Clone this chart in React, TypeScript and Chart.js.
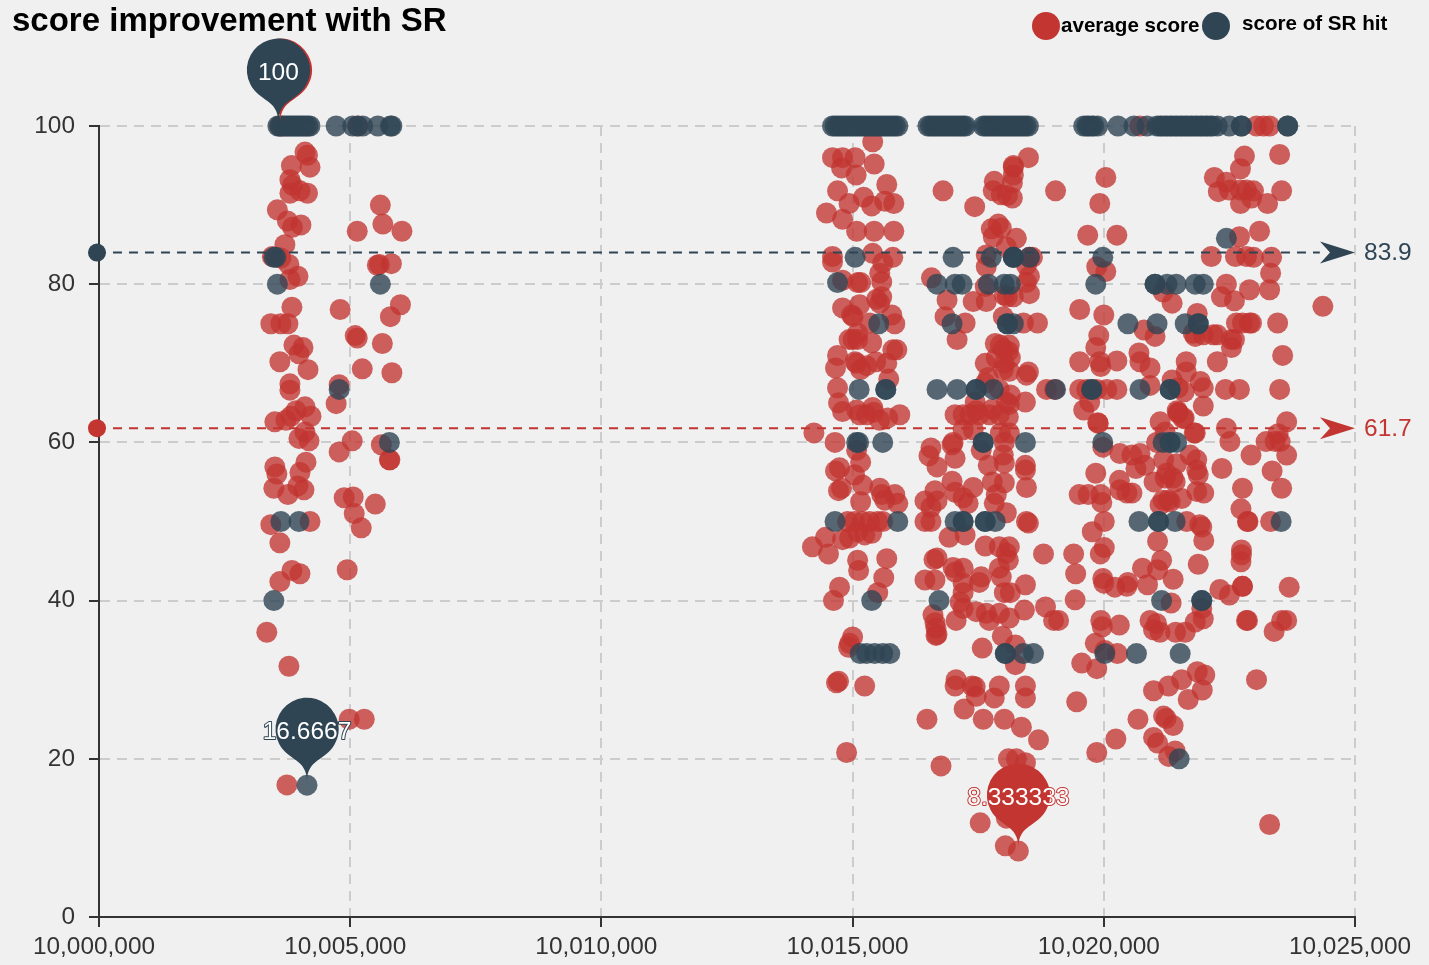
import React, { useEffect, useRef } from "react";
import { Chart, registerables } from "chart.js";

Chart.register(...registerables);

const X_BASE = 10000000;
const X_STEP = 1000; // pair x values are in thousands above X_BASE
const RED = "#c23531";
const BLUE = "#2f4554";
const RED_A = "rgba(194,53,49,0.78)";
const BLUE_A = "rgba(47,69,84,0.8)";

const titleText = "score improvement with SR";
const legendLabels = ["average score", "score of SR hit"];
const yTicksStep = 20;
const xTicksStep = 5000;

const redLeft: number[][] = [
  [4.1,96.7],[4.15,96.3],[3.83,95],[4.2,94.8],[3.8,93.2],[3.85,92.5],[3.8,91.5],[4.15,91.5],[4.0,91.8],[3.55,89.4],[3.75,88],[3.85,87.2],[4.02,87.5],[3.7,85],[3.45,83.5],[3.62,83.3],[3.78,82.5],[3.96,81],[3.8,80.6],[3.84,77.1],[3.42,75],[3.62,75],[3.76,75],[3.6,70.2],[3.88,72.3],[4.06,72],[3.98,71.2],[4.16,69.2],[3.8,67.4],[3.8,66.6],[3.5,62.6],[3.72,62.8],[3.82,63.3],[3.92,64],[4.1,64.5],[4.22,63.3],[3.98,60.5],[4.1,61.3],[4.18,60.2],[3.5,56.9],[3.54,56],[4.12,57.5],[4,56.2],[3.48,54.2],[3.76,53.4],[3.96,54.5],[4.08,54],[3.42,49.6],[4.2,50],[3.6,47.3],[3.6,42.4],[3.84,43.8],[4,43.4],[3.34,36],[3.78,31.7],[3.74,16.7],[4.98,25],[5.28,25],
  [5.14,86.7],[5.6,90],[5.65,87.6],[6.03,86.7],[5.54,82.4],[5.58,82.5],[5.82,82.6],[6,77.4],[4.8,76.8],[5.8,75.9],[5.1,73.5],[5.14,73.2],[5.64,72.5],[5.83,68.8],[5.24,69.3],[4.78,67.3],[4.72,64.9],[5.04,60.2],[4.78,58.8],[5.62,59.7],[5.78,57.8],[5.79,57.8],[4.88,53],[5.06,53.1],[5.5,52.2],[5.08,51],[5.22,49.2],[4.94,43.9],[5.15,100],[3.6,100],
];

const redMiddleA: number[][] = [
  [15.4,98],[14.6,96],[14.8,96],[15.05,96],[14.78,94.7],[15.07,93.8],[15.43,95.2],[14.7,91.8],[14.93,90.2],[15.22,91],[15.68,92.6],[15.38,89.9],[15.64,90.5],[15.82,90.2],[14.48,89],[14.8,88.2],[15.08,86.7],[15.43,86.7],[15.82,86.7],[15.4,83.9],[14.6,83.5],[14.6,82.8],[15.8,83.4],[15.6,82.7],[15.54,81.4],[15.1,80.2],[15.16,80.2],[15.58,80.3],[14.8,80.5],
  [14.8,77],[15.14,77.4],[15.48,78.1],[15.58,78.4],[15.54,77.6],[14.98,76.1],[15.01,75.9],[15.78,76.1],[15.84,75],[15.34,75.1],[14.93,73],[15.01,73],[15.1,73],[15.38,72.6],[15.88,71.7],[15.8,71.7],[14.7,71],[14.66,69.4],[15.1,73.8],[15.05,70.2],[15.08,70],[15.28,69.7],[15.46,70.2],[15.68,70],[15.16,69.2],[15.72,68],[14.7,66.9],[14.72,65],[14.8,63.9],[15.08,64.1],[15.4,64.4],[15.28,63.5],[15.14,63.5],[15.42,63.8],[15.94,63.5],[15.7,63.1],[15.54,62.8],
  [14.23,61.2],[14.65,60],[15.08,59],[15.16,57.5],[14.74,56.8],[14.66,56.4],[15.04,55.9],[14.78,54.2],[14.72,53.9],[15.2,54.6],[15.54,54.2],[15.84,53.4],[15.58,53.4],[15.9,52.3],[15.16,52.5],[15.64,52.7],[14.9,50],[15.04,50],[15.2,50],[15.34,50],[15.5,50],[15.6,50],[15.1,48.7],[14.94,47.9],[15.24,48.3],[15.38,48.5],[14.8,47.7],[14.46,48],[14.2,46.8],[14.52,45.9],[15.1,45.1],[15.12,43.8],[15.68,45.3],[15.62,42.9],[14.74,41.7],[14.62,40],[15.5,41],[15,35.4],[14.94,34.6],[14.92,34.1],[14.72,29.8],[14.68,29.6],[15.24,29.2],[14.88,20.8],
];

const redMiddleB: number[][] = [
  [16.8,91.8],[17.43,89.8],[18.5,96],[18.2,95],[18.2,94.8],[18.2,93.8],[17.82,93],[18.18,92.8],[17.8,91.8],[17.96,91.3],[18.08,91.2],[18.18,90.9],[19.04,91.8],[17.9,87.6],[17.76,87],[17.96,87.1],[17.8,86],[18.26,85.8],[18.06,84.7],[17.66,83.7],[18.52,83.4],[18.58,83.4],[17.66,82.2],[18.46,82.4],[16.57,80.8],[18.52,81],[18.46,80.2],[17.64,79.7],
  [16.88,78],[17.4,77.8],[17.66,77.8],[18.08,78.4],[18.2,78.4],[18.52,78.8],[18.02,78.6],[16.84,75.9],[17.24,75.1],[18,75.9],[18.4,75.1],[18.68,75.1],[17.08,73],[17.94,72.3],[18.12,72.3],[17.84,72.5],[18,71.8],[18.1,71.5],[17.86,70.7],[18.14,70.7],[17.64,70],[18.02,70],[18,69.2],[18.5,68.9],[18.46,68.5],[18.12,69],
  [18.86,66.7],[19.02,66.7],[17.64,67.5],[17.7,68.2],[17.44,65.1],[17.92,66.7],[18.06,65.1],[18.44,65.1],[18.14,66],[17.04,63.5],[17.2,63.5],[17.34,63.5],[17.46,64],[17.52,63.5],[17.72,63.5],[17.92,63.5],[18.12,64.8],[18.1,63.2],[17.78,64.2],
  [16.56,59.3],[16.52,58.3],[17,60],[16.98,59.7],[17.04,58],[16.68,56.9],[17.2,61.6],[17.4,61.6],[17.56,59],[17.94,61.2],[18.12,61.2],[18.02,60],[18,58.4],[18.02,57.4],[17.7,57.1],[18.44,57.1],[18.44,56.5],[17.78,55],[18.02,54.9],[16.98,55.1],[17.4,54.3],[18.46,54.3],[16.64,53.9],[17.04,53.7],[17.86,53.4],[16.44,52.6],[16.68,52.6],[16.56,51.8],[17.2,53],[17.3,52.3],[17.82,52.3],[18.06,51.1],[16.56,50],[16.44,50],[18.46,50],[18.5,49.8],[17.24,48.3],[16.92,48],[17.64,46.9],[17.92,46.8],[18.12,46.8],[18.06,46],[18.1,45.1],[18.8,45.9],
  [16.68,45.4],[16.62,45.2],[17,44.2],[17.2,44.1],[17.92,44.1],[17.04,43.6],[17.56,43],[17.96,43],[17.2,42.2],[17.52,42.3],[16.44,42.6],[16.64,42.6],[18.44,42],[18.02,41],[18.14,41],[17.2,41],[17.14,39.8],[17.2,39],[17.46,38.6],[17.66,38.4],[17.72,37.5],[17.92,38.4],[18.12,37.8],[18.42,38.8],[18.84,39.2],[19,37.5],[17.06,37.5],[16.6,38.2],[16.64,37.2],[16.66,36.5],[16.68,35.7],[16.66,35.6],
  [17.98,35.5],[17.58,34],[18.24,34.4],[18.24,31.9],[17.06,30],[17.04,29.2],[17.38,29.2],[17.44,29.1],[17.92,29.2],[18.44,29.2],[18.44,27.7],[17.46,27.9],[17.82,27.7],[17.22,26.3],[16.48,25],[17.6,25],[18.02,25],[18.36,24],[18.7,22.4],[16.76,19.1],[18.1,20],[18.26,20],[18.44,19.5],[17.54,11.9],[18.04,9],[18.3,8.333333],[18.06,12.5],
];

const redRightTop: number[][] = [
  [20.04,93.5],[19.92,90.2],[19.68,86.2],[20.26,86.2],[19.86,82.2],[20.04,81.6],[19.52,76.8],[20,76.1],[19.9,73.5],[19.84,72],[19.52,70.2],[19.92,70.2],[19.94,69.6],[20.26,70.3],[19.52,66.7],[19.66,66.7],[19.86,66.7],[20.06,66.7],[20.26,66.7],[19.72,65.1],[19.6,64.1],[19.88,62.5],
  [20.7,71.3],[20.72,70.2],[20.92,69.4],[20.8,74.2],[21.02,73.4],[21.18,79],[21.36,77.6],[21.86,76.3],[21.78,73.8],[21.82,73.4],[21.98,73.6],[22.18,73.6],[22.26,73.6],[22.54,73],[22.6,73],[22.54,72],[22.64,75.1],[22.76,75.1],[22.94,75.1],[22.9,75.1],[23.46,75.1],[23.56,71],[24.36,77.2],
  [21.64,70.2],[22.26,70.2],[21.36,67.9],[21.64,68.9],[21.92,67.7],[21.98,66.9],[20.92,67.2],[21.48,66.9],[21.6,66.4],[22.42,66.7],[22.7,66.7],[23.5,66.7],[21.98,64.6],[21.46,64],[21.48,63.8],[21.6,63.1],
  [22.8,96.2],[22.72,94.6],[23.5,96.4],[22.2,93.5],[22.44,92.9],[22.28,91.7],[22.5,91.9],[22.72,91.9],[22.84,91.9],[22.98,91.8],[22.94,90.9],[22.72,90.2],[23.26,90.2],[23.54,91.8],[23.1,86.7],[22.7,86],[22.14,83.5],[22.62,83.5],[22.84,83.5],[22.98,83.4],[23.34,83.4],[23.32,81.4],[22.44,80],[22.9,79.3],[23.3,79.3],[22.34,78.4],[22.6,77.9],
  [23.04,100],[23.18,100],[23.3,100],[20.72,100],
];

const redRightBottom: number[][] = [
  [19.89,62.4],[19.98,59.4],[20.32,58.6],[20.56,58.4],[20.72,58.6],[20.64,56.7],[20.82,57.1],[21.12,62.6],[21.22,61.3],[21.05,60],[21.48,63.7],[21.58,63],[21.8,61.2],[21.82,61.2],[22.44,61.8],[22.51,60.1],[22.93,58.4],[23.23,60.1],[23.41,60.1],[23.51,60.1],[23.64,62.6],[23.47,61.1],[23.64,58.4],[23.35,56.4],[23.54,54.2],[22.35,56.7],[22.76,54.2],[21.19,57.8],[21.45,57.3],[21.72,58.4],[21.85,57.8],[21.85,56.5],[21.88,55.9],[21,55],[21.22,55.5],[21.38,55.5],[21.42,55],[21.25,56.1],[19.84,56.1],[20.31,55.2],[20.32,54],[20.46,53.6],[20.56,53.6],[19.51,53.4],[19.69,53.4],[19.94,53.4],[19.96,52.4],[21.18,52.7],[21.28,52.7],[21.32,52.5],[21.12,52.1],[21.55,52.9],[21.85,53.8],[21.99,53.6],
  [20.01,50],[19.77,48.7],[21.65,50],[21.91,49.6],[21.95,49.3],[21.99,47.6],[21.07,47.5],[22.73,51.6],[22.86,50],[22.87,50],[23.32,50],[22.74,46.4],[22.74,45.8],[22.73,44.9],[20.01,46.7],[19.93,45.9],[19.4,45.9],[19.44,43.4],[21.15,45.1],[20.77,44.1],[21.88,44.6],[21.07,43.9],[19.98,42.8],[20,42.2],[20.22,41.7],[20.48,42.3],[20.46,41.8],[20.87,42],[21.38,42.7],[22.31,41.4],[22.5,40.7],[22.76,41.8],[22.76,41.8],[23.69,41.7],[19.43,40.1],
  [19.1,37.5],[19.94,37.5],[19.97,36.7],[20.31,36.9],[20.92,37.5],[21.05,37.1],[20.99,36.3],[21.12,36],[21.43,36],[21.62,36],[21.34,39.7],[21.95,39],[21.98,37.7],[21.82,37.3],[22.86,37.5],[22.84,37.5],[23.39,36.1],[23.54,37.5],[23.64,37.5],[19.83,34.6],[20.02,33.7],[20.27,33.3],[19.56,32.1],[19.86,31.4],[21.86,31],[22.01,30.6],[21.55,30],[21.29,29.2],[20.99,28.6],[21.96,28.7],[21.68,27.5],[23.04,30],[19.46,27.2],[20.68,25],[21.19,25.4],[21.24,25.1],[21.38,24.2],[20.24,22.5],[20.99,22.7],[21.07,22],[19.86,20.8],[21.42,21],[21.29,20.3],[23.3,11.7],
];

const blueTopRow: number[] = [
  3.56,3.6,3.64,3.68,3.72,3.76,3.8,3.84,3.88,3.92,3.96,4,4.04,4.08,4.12,4.16,4.2,4.72,5.05,5.15,5.25,5.55,5.8,5.83,
  14.6,14.65,14.7,14.75,14.8,14.85,14.9,14.95,15,15.05,15.1,15.15,15.2,15.25,15.3,15.35,15.4,15.45,15.5,15.55,15.6,15.65,15.7,15.75,15.8,15.85,15.9,
  16.5,16.55,16.6,16.65,16.7,16.75,16.8,16.85,16.9,16.95,17,17.05,17.1,17.15,17.2,17.25,
  17.6,17.65,17.7,17.75,17.8,17.85,17.9,17.95,18,18.05,18.1,18.15,18.2,18.25,18.3,18.35,18.4,18.45,18.5,
  19.6,19.66,19.7,19.76,19.8,19.88,20.28,20.6,20.86,21.06,21.12,21.16,21.22,21.26,21.32,21.36,21.42,21.46,21.52,21.56,21.62,21.66,21.72,21.76,21.82,21.86,21.92,21.96,22.02,22.06,22.12,22.16,22.26,22.5,22.74,22.74,23.66,23.66,
];

const blueOther: number[][] = [
  [3.48,83.4],[3.52,83.4],[3.55,80],[5.6,80],[4.78,66.7],[5.78,60],[3.62,50],[3.98,50],[3.48,40],[4.14,16.6667],
  [15.05,83.4],[14.7,80.2],[15.52,75],[15.13,66.7],[15.66,66.7],[15.66,66.7],[15.08,60],[15.12,60],[15.6,60],[14.65,50],[15.9,50],[15.38,40],[15.15,33.3],[15.28,33.3],[15.44,33.3],[15.6,33.3],[15.74,33.3],
  [17,83.4],[17.76,83.4],[18.2,83.4],[18.2,83.4],[18.2,83.4],[18.52,83.4],[16.68,80],[17.04,80],[17.18,80],[17.7,80],[18.02,80],[18.14,80],[16.98,75],[18.08,75],[18.08,75],[18.2,75],[16.68,66.7],[17.08,66.7],[17.46,66.7],[17.46,66.7],[17.8,66.7],[19.04,66.7],[17.6,60],[17.6,60],[18.44,60],[17.04,50],[17.2,50],[17.2,50],[17.64,50],[17.64,50],[17.84,50],[16.72,40],[18.04,33.3],[18.04,33.3],[18.4,33.3],[18.6,33.3],
  [19.98,83.4],[22.44,85.8],[19.84,80],[21.02,80],[21.02,80],[21.26,80],[21.44,80],[21.82,80],[21.98,80],[20.48,75],[21.06,75],[21.62,75],[21.88,75],[21.88,75],[19.76,66.7],[19.76,66.7],[20.72,66.7],[21.32,66.7],[21.32,66.7],
  [19.98,60],[21.18,60],[21.32,60],[21.32,60],[21.45,60],[20.7,50],[21.09,50],[21.09,50],[21.42,50],[23.53,50],[21.15,40],[21.95,40],[21.95,40],[20.02,33.3],[20.65,33.3],[21.52,33.3],[21.5,20],
];

const redPairs = [...redLeft, ...redMiddleA, ...redMiddleB, ...redRightTop, ...redRightBottom];
const bluePairs = [...blueTopRow.map((k) => [k, 100]), ...blueOther];

const toPoint = (p: number[]) => ({ x: X_BASE + p[0] * X_STEP, y: p[1] });

// mark lines: value where it is drawn / label shown
const redMean = 61.8;
const blueMean = 84;
const redMeanLabel = "61.7";
const blueMeanLabel = "83.9";
const markStartX = 9999960;
const markEndX = 10025000;

// pins: [x, y, label]
const redPins: [number, number, string][] = [
  [10003610, 100, "100"],
  [10018300, 8.333333, "8.333333"],
];
const bluePins: [number, number, string][] = [
  [10003570, 100, "100"],
  [10004140, 16.6667, "16.6667"],
];

function drawPin(ctx: CanvasRenderingContext2D, x: number, tipY: number, color: string) {
  const r = 31.5;
  const d = 52;
  const dy = (-d + Math.sqrt(d * d + 4 * r * r)) / 2;
  const cy = tipY - d;
  const angle = Math.asin(dy / r);
  const dx = Math.cos(angle) * r;
  const tanX = Math.sin(angle);
  const tanY = Math.cos(angle);
  const cp = r * 0.6;
  const cp2 = r * 0.7;
  ctx.beginPath();
  ctx.moveTo(x - dx, cy + dy);
  ctx.arc(x, cy, r, Math.PI - angle, Math.PI * 2 + angle);
  ctx.bezierCurveTo(x + dx - tanX * cp, cy + dy + tanY * cp, x, tipY - cp2, x, tipY);
  ctx.bezierCurveTo(x, tipY - cp2, x - dx + tanX * cp, cy + dy + tanY * cp, x - dx, cy + dy);
  ctx.closePath();
  ctx.fillStyle = color;
  ctx.fill();
}

function drawArrow(ctx: CanvasRenderingContext2D, x: number, y: number, color: string) {
  ctx.beginPath();
  ctx.moveTo(x, y);
  ctx.lineTo(x - 35, y - 11);
  ctx.lineTo(x - 25, y);
  ctx.lineTo(x - 35, y + 11);
  ctx.closePath();
  ctx.fillStyle = color;
  ctx.fill();
}

const overlayPlugin = {
  id: "overlay",
  afterDatasetsDraw(chart: any) {
    const { ctx, scales } = chart;
    const xs = scales.x;
    const ys = scales.y;
    ctx.save();
    // mark line arrows and labels
    ctx.font = "24.5px 'Liberation Sans', Arial, sans-serif";
    ctx.textAlign = "left";
    ctx.textBaseline = "middle";
    const lines: [number, string, string][] = [
      [blueMean, blueMeanLabel, BLUE],
      [redMean, redMeanLabel, RED],
    ];
    lines.forEach(([v, label, color]) => {
      const py = ys.getPixelForValue(v);
      const px = xs.getPixelForValue(markEndX);
      drawArrow(ctx, px, py, color);
      ctx.fillStyle = color;
      ctx.fillText(label, px + 9, py + 1);
    });
    // pins
    const pins: [[number, number, string][], string][] = [
      [redPins, RED],
      [bluePins, BLUE],
    ];
    pins.forEach(([list, color]) => {
      list.forEach(([vx, vy, label]) => {
        const px = xs.getPixelForValue(vx);
        const py = ys.getPixelForValue(vy) - 4;
        drawPin(ctx, px, py, color);
        ctx.textAlign = "center";
        ctx.lineWidth = 2;
        ctx.lineJoin = "round";
        ctx.strokeStyle = color;
        ctx.strokeText(label, px, py - 49);
        ctx.fillStyle = "#ffffff";
        ctx.fillText(label, px, py - 49);
      });
    });
    // legend
    ctx.textAlign = "left";
    ctx.font = "bold 20.6px 'Liberation Sans', Arial, sans-serif";
    ctx.beginPath();
    ctx.arc(1046, 26, 14, 0, Math.PI * 2);
    ctx.fillStyle = RED;
    ctx.fill();
    ctx.beginPath();
    ctx.arc(1216, 26, 14, 0, Math.PI * 2);
    ctx.fillStyle = BLUE;
    ctx.fill();
    ctx.fillStyle = "#000000";
    ctx.fillText(legendLabels[0], 1061, 26);
    ctx.fillText(legendLabels[1], 1242, 24);
    ctx.restore();
  },
};

export default function App() {
  const ref = useRef<HTMLCanvasElement | null>(null);
  useEffect(() => {
    if (!ref.current) return;
    const chart = new Chart(ref.current, {
      type: "scatter",
      plugins: [overlayPlugin],
      data: {
        datasets: [
          {
            type: "line",
            label: "mean " + legendLabels[1],
            data: [{ x: markStartX, y: blueMean }, { x: markEndX - 700, y: blueMean }],
            borderColor: BLUE,
            borderWidth: 2,
            borderDash: [9, 7],
            pointRadius: [9, 0],
            pointBackgroundColor: BLUE,
            pointBorderWidth: 0,
            clip: false,
            order: 0,
          },
          {
            type: "line",
            label: "mean " + legendLabels[0],
            data: [{ x: markStartX, y: redMean }, { x: markEndX - 700, y: redMean }],
            borderColor: RED,
            borderWidth: 2,
            borderDash: [9, 7],
            pointRadius: [9, 0],
            pointBackgroundColor: RED,
            pointBorderWidth: 0,
            clip: false,
            order: 1,
          },
          {
            label: legendLabels[1],
            data: bluePairs.map(toPoint),
            backgroundColor: BLUE_A,
            borderWidth: 0,
            pointRadius: 10.5,
            clip: false,
            order: 2,
          },
          {
            label: legendLabels[0],
            data: redPairs.map(toPoint),
            backgroundColor: RED_A,
            borderWidth: 0,
            pointRadius: 10.5,
            clip: false,
            order: 3,
          },
        ],
      } as any,
      options: {
        responsive: false,
        animation: false,
        layout: { padding: { left: 12, right: 74, top: 0, bottom: 0 } },
        plugins: {
          legend: { display: false },
          tooltip: { enabled: false },
          title: {
            display: true,
            text: titleText,
            align: "start",
            color: "#000000",
            font: { family: "'Liberation Sans', Arial, sans-serif", size: 33, weight: "bold", lineHeight: 1.2 },
            padding: { top: 2, bottom: 84.4 },
          },
        },
        scales: {
          x: {
            type: "linear",
            min: X_BASE,
            max: 10025000,
            afterFit: (s: any) => { s.height = 48; },
            border: { color: "#333333", width: 2, dash: [10, 7] },
            grid: { color: "#cccccc", lineWidth: 2, tickColor: "#333333", tickLength: 10, tickWidth: 2 },
            ticks: {
              stepSize: xTicksStep,
              maxRotation: 0,
              autoSkip: false,
              padding: 6,
              labelOffset: -5,
              color: "#333333",
              font: { family: "'Liberation Sans', Arial, sans-serif", size: 24.4 },
              callback: (v: any) => Number(v).toLocaleString("en-US"),
            },
          },
          y: {
            type: "linear",
            min: 0,
            max: 100,
            afterFit: (s: any) => { s.width = 87; },
            border: { color: "#333333", width: 2, dash: [10, 7] },
            grid: { color: "#cccccc", lineWidth: 2, tickColor: "#333333", tickLength: 10, tickWidth: 2 },
            ticks: {
              stepSize: yTicksStep,
              padding: 14,
              color: "#333333",
              font: { family: "'Liberation Sans', Arial, sans-serif", size: 24.4 },
            },
          },
        },
      } as any,
    });
    return () => chart.destroy();
  }, []);
  return (
    <div style={{ position: "absolute", left: 0, top: 0, width: 1429, height: 965, background: "#f0f0f0" }}>
      <canvas ref={ref} width={1429} height={965} style={{ display: "block" }} />
    </div>
  );
}
